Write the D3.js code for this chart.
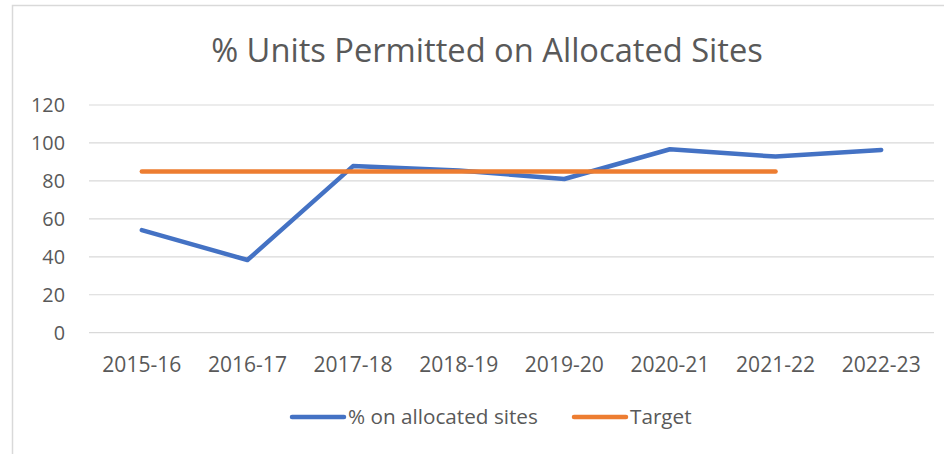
<!DOCTYPE html>
<html><head><meta charset="utf-8">
<script src="https://cdn.jsdelivr.net/npm/d3@7"></script>
<style>body{margin:0;background:#fff;}svg{display:block;}</style>
</head><body>
<script>
const categories = ["2015-16","2016-17","2017-18","2018-19","2019-20","2020-21","2021-22","2022-23"];
const allocated = [54.1, 38.3, 87.8, 85.5, 81.0, 96.7, 92.8, 96.3];
const target = [85, 85, 85, 85, 85, 85, 85, null];
const yTicks = [0, 20, 40, 60, 80, 100, 120];
const seriesNames = ["% on allocated sites", "Target"];
const colors = ["#4472c4", "#ed7d31"];

const W = 944, H = 454;
const font = "'Open Sans', Lato, sans-serif";
const svg = d3.select("body").append("svg").attr("width", W).attr("height", H);

function fit(sel, base, width) {
  sel.attr("font-size", base);
  const w = sel.node().getComputedTextLength();
  return base * width / w;
}

// chart border
svg.append("rect").attr("x", 12.5).attr("y", 5.5).attr("width", 1000).attr("height", 1000)
  .attr("fill", "none").attr("stroke", "#d9d9d9").attr("stroke-width", 1.5);

const x = d3.scaleBand().domain(categories).range([89, 934]);
const y = d3.scaleLinear().domain([0, 120]).range([332.7, 105]);

// gridlines
svg.append("g").selectAll("line").data(yTicks).join("line")
  .attr("x1", 89).attr("x2", 934).attr("y1", d => y(d)).attr("y2", d => y(d))
  .attr("stroke", "#d9d9d9").attr("stroke-width", 1.2);

// y axis labels
const yAxis = d3.axisLeft(y).tickValues(yTicks).tickSize(0).tickPadding(0);
const gy = svg.append("g").attr("transform", "translate(65,0)").call(yAxis);
gy.select(".domain").remove();
gy.selectAll("text").attr("font-family", font).attr("fill", "#595959");
const yfs = fit(gy.selectAll("text").filter(d => d === 120), 17, 34);
gy.selectAll("text").attr("font-size", yfs);

// x axis labels
const xAxis = d3.axisBottom(x).tickSize(0).tickPadding(0);
const gx = svg.append("g").attr("transform", "translate(0,357)").call(xAxis);
gx.select(".domain").remove();
gx.selectAll("text").attr("font-family", font).attr("fill", "#595959");
const xfs = fit(gx.selectAll("text").filter(d => d === "2015-16"), 17, 79);
gx.selectAll("text").attr("font-size", xfs);

const line = d3.line().defined(d => d.v != null)
  .x(d => x(d.c) + x.bandwidth() / 2).y(d => y(d.v));

[allocated, target].forEach((vals, i) => {
  svg.append("path").datum(categories.map((c, j) => ({c, v: vals[j]})))
    .attr("d", line).attr("fill", "none").attr("stroke", colors[i])
    .attr("stroke-width", 4.5).attr("stroke-linecap", "round").attr("stroke-linejoin", "round");
});

// title
const title = svg.append("text").attr("x", 487).attr("y", 62).attr("text-anchor", "middle")
  .attr("font-family", font).attr("fill", "#595959")
  .text("% Units Permitted on Allocated Sites");
title.attr("font-size", fit(title, 28, 552));

// legend
const legendItems = [{x: 292, tx: 348, w: 190}, {x: 574, tx: 630, w: 62}];
const lt = [];
legendItems.forEach((it, i) => {
  svg.append("line").attr("x1", it.x).attr("x2", it.x + 52).attr("y1", 417).attr("y2", 417)
    .attr("stroke", colors[i]).attr("stroke-width", 4.5).attr("stroke-linecap", "round");
  lt.push(svg.append("text").attr("x", it.tx).attr("y", 424).attr("font-family", font)
    .attr("fill", "#595959").text(seriesNames[i]));
});
const lfs = fit(lt[0], 17, legendItems[0].w);
lt.forEach(t => t.attr("font-size", lfs));
</script>
</body></html>
